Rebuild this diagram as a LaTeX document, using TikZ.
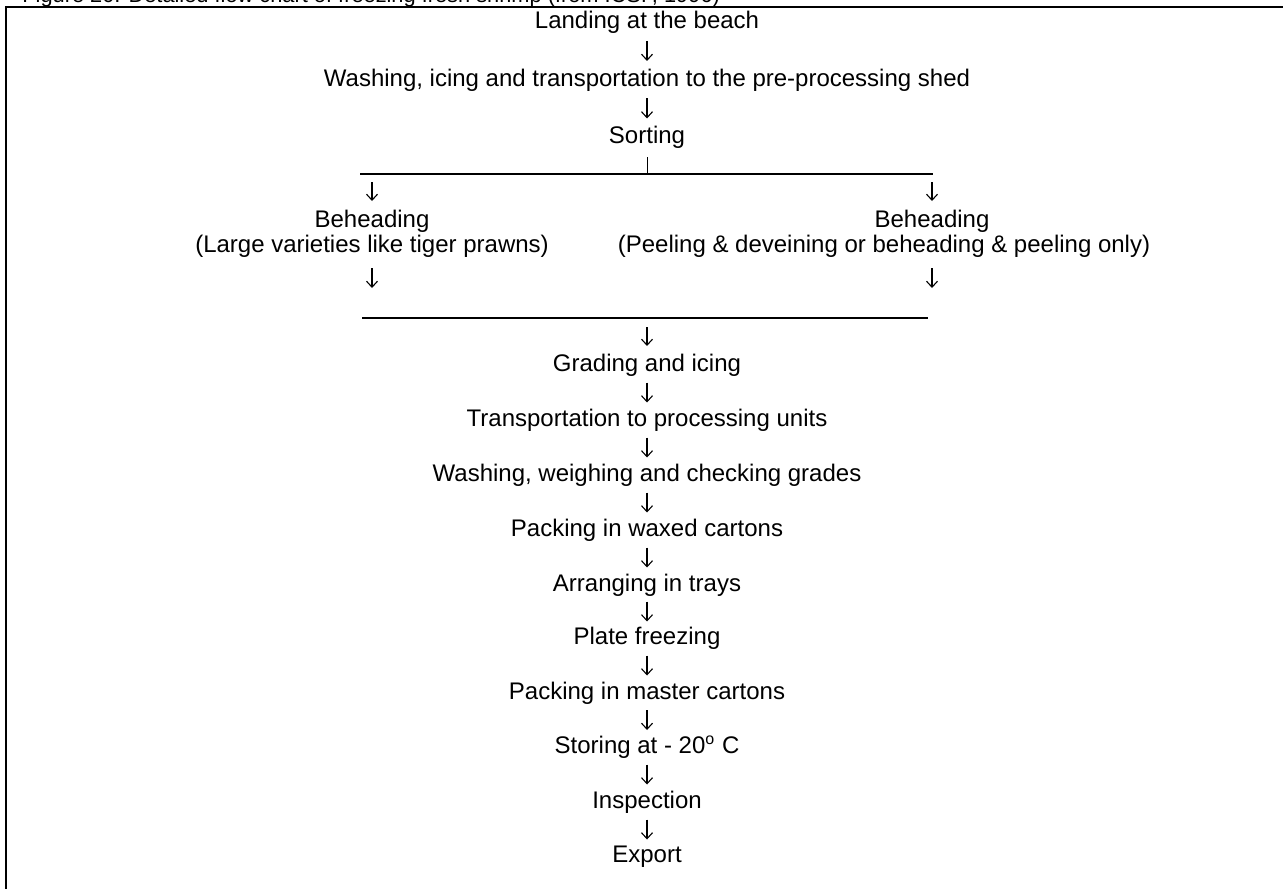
\documentclass[tikz,border=0pt]{standalone}
\usepackage{fontspec}
\setmainfont{Liberation Sans}
\usetikzlibrary{arrows.meta,calc}
\begin{document}
\begin{tikzpicture}[x=0.5pt,y=-0.5pt,
  lbl/.style={inner sep=0pt, font=\fontsize{12}{13.8}\selectfont, align=center},
  caplbl/.style={inner sep=0pt, font=\fontsize{10.9}{13}\selectfont},
  arr/.style={line width=0.55pt, -{Straight Barb[length=3pt,width=5.5pt,line width=0.55pt]}},
  rule/.style={line width=0.8pt},
  bar/.style={line width=0.5pt},
  frame/.style={line width=1pt}]
\useasboundingbox (0,0) rectangle (1283,888);
\begin{scope}
\clip (0,0) rectangle (1283,888);
\node[caplbl, anchor=base west] (cap) at (22,2.5) {Figure 20. Detailed flow chart of freezing fresh shrimp (from ICSF, 1996)};
\draw[frame] (1300,7) -- (6,7) -- (6,900);
\end{scope}
% top chain
\node[lbl] (n1) at (647,22) {Landing at the beach};
\node[lbl] (n2) at (647,80) {Washing, icing and transportation to the pre-processing shed};
\node[lbl] (n3) at (647,137) {Sorting};
\draw[arr] ($(n1)!0.5!(n2)+(0,-10)$) -- ($(n1)!0.5!(n2)+(0,10)$);
\draw[arr] ($(n2)!0.5!(n3)+(0,-10)$) -- ($(n2)!0.5!(n3)+(0,10)$);
% split
\coordinate (s1) at (360,174);
\coordinate (s2) at (933,174);
\coordinate (sm) at (647,174);
\draw[rule] (s1) -- (s2);
\draw[bar] ($(sm)+(0,-17)$) -- (sm);
\node[lbl] (blh) at (372,221) {Beheading};
\node[lbl] (blp) at (372,246) {(Large varieties like tiger prawns)};
\node[lbl] (brh) at (932,221) {Beheading};
\node[lbl] (brp) at (884,246) {(Peeling \& deveining or beheading \& peeling only)};
\draw[arr] ($(s1 -| blh)+(0,8)$) -- ($(s1 -| blh)+(0,27)$);
\draw[arr] ($(s1 -| brh)+(0,8)$) -- ($(s1 -| brh)+(0,27)$);
% merge
\coordinate (t1) at (362,318);
\coordinate (t2) at (928,318);
\coordinate (tm) at (647,318);
\draw[arr] ($(blh)+(0,47)$) -- ($(blh)+(0,67)$);
\draw[arr] ($(brh)+(0,47)$) -- ($(brh)+(0,67)$);
\draw[rule] (t1) -- (t2);
% lower chain
\node[lbl] (g1) at (647,365) {Grading and icing};
\node[lbl] (g2) at (647,420) {Transportation to processing units};
\node[lbl] (g3) at (647,475) {Washing, weighing and checking grades};
\node[lbl] (g4) at (647,530) {Packing in waxed cartons};
\node[lbl] (g5) at (647,585) {Arranging in trays};
\node[lbl] (g6) at (647,638) {Plate freezing};
\node[lbl] (g7) at (647,693) {Packing in master cartons};
\node[lbl] (g8) at (647,747) {Storing at - 20\textsuperscript{o} C};
\node[lbl] (g9) at (647,802) {Inspection};
\node[lbl] (g10) at (647,857) {Export};
\draw[arr] ($(tm)+(0,9)$) -- ($(tm)+(0,28)$);
\foreach \a/\b in {g1/g2,g2/g3,g3/g4,g4/g5,g5/g6,g6/g7,g7/g8,g8/g9,g9/g10}
  \draw[arr] ($(\a)!0.5!(\b)+(0,-10)$) -- ($(\a)!0.5!(\b)+(0,10)$);
\end{tikzpicture}
\end{document}
